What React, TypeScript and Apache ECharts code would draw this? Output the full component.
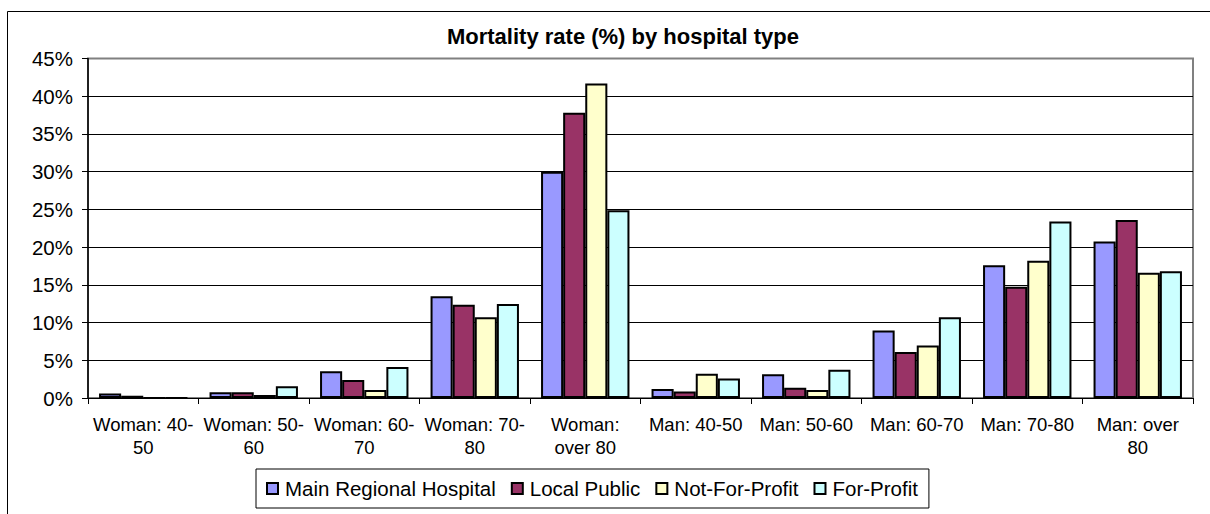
import React, { useEffect, useRef } from "react";
import * as echarts from "echarts";

const categories = [
  "Woman: 40-50",
  "Woman: 50-60",
  "Woman: 60-70",
  "Woman: 70-80",
  "Woman: over 80",
  "Man: 40-50",
  "Man: 50-60",
  "Man: 60-70",
  "Man: 70-80",
  "Man: over 80",
];
const tickLabels = [
  "Woman: 40-\n50",
  "Woman: 50-\n60",
  "Woman: 60-\n70",
  "Woman: 70-\n80",
  "Woman:\nover 80",
  "Man: 40-50",
  "Man: 50-60",
  "Man: 60-70",
  "Man: 70-80",
  "Man: over\n80",
];
const seriesNames = ["Main Regional Hospital", "Local Public", "Not-For-Profit", "For-Profit"];
const mainRegional = [0.6, 0.75, 3.55, 13.5, 30.0, 1.2, 3.15, 8.95, 17.6, 20.75];
const localPublic = [0.3, 0.75, 2.4, 12.35, 37.8, 0.85, 1.35, 6.1, 14.75, 23.6];
const notForProfit = [0, 0.4, 1.05, 10.7, 41.7, 3.2, 1.05, 6.95, 18.2, 16.6];
const forProfit = [0, 1.55, 4.1, 12.45, 24.9, 2.6, 3.75, 10.7, 23.4, 16.8];
const yTicks = [0, 5, 10, 15, 20, 25, 30, 35, 40, 45];

const colors = ["#9999FF", "#993366", "#FFFFCC", "#CCFFFF"];
const FONT = "'Liberation Sans', Arial, sans-serif";

export default function App() {
  const ref = useRef<HTMLDivElement>(null);
  useEffect(() => {
    if (!ref.current) return;
    const chart = echarts.init(ref.current, null, { renderer: "svg" });
    const data = [mainRegional, localPublic, notForProfit, forProfit];
    const splitColors = yTicks.map((t, i) => (i === yTicks.length - 1 ? "#808080" : "#000000"));
    chart.setOption({
      animation: false,
      backgroundColor: "#ffffff",
      textStyle: { fontFamily: FONT },
      title: {
        text: "Mortality rate (%) by hospital type",
        left: 618,
        top: 20,
        textAlign: "center",
        textStyle: { fontFamily: FONT, fontSize: 22, fontWeight: "bold", color: "#000" },
      },
      graphic: [
        {
          type: "rect",
          shape: { x: 7.5, y: 11.5, width: 1230, height: 530 },
          style: { fill: "none", stroke: "#000", lineWidth: 1 },
          silent: true,
          z: -1,
        },
      ],
      legend: {
        data: seriesNames,
        left: 256,
        top: 469,
        orient: "horizontal",
        backgroundColor: "#fff",
        borderColor: "#000",
        borderWidth: 1,
        padding: [9, 11, 9, 10],
        itemWidth: 11,
        itemHeight: 11,
        itemGap: 15,
        icon: "rect",
        itemStyle: { borderColor: "#000", borderWidth: 2 },
        textStyle: { fontFamily: FONT, fontSize: 20.5, color: "#000", padding: [0, 0, 0, 2] },
      },
      grid: {
        left: 88,
        right: 17,
        top: 58.5,
        bottom: 116,
        show: true,
        borderColor: "#808080",
        borderWidth: 2,
        backgroundColor: "#fff",
      },
      xAxis: {
        type: "category",
        data: categories,
        axisLine: { lineStyle: { color: "#000", width: 1 } },
        axisTick: { show: true, alignWithLabel: false, length: 6, lineStyle: { color: "#000" } },
        axisLabel: {
          interval: 0,
          margin: 15,
          color: "#000",
          fontFamily: FONT,
          fontSize: 18.5,
          lineHeight: 23,
          align: "center",
          formatter: (_v: string, i: number) => tickLabels[i],
        },
      },
      yAxis: {
        type: "value",
        min: 0,
        max: 45,
        interval: 5,
        axisLine: { show: true, lineStyle: { color: "#000", width: 1.5 } },
        axisTick: { show: true, length: 6, lineStyle: { color: "#000" } },
        axisLabel: {
          margin: 15,
          color: "#000",
          fontFamily: FONT,
          fontSize: 20.5,
          formatter: "{value}%",
        },
        splitLine: { show: true, lineStyle: { color: splitColors, width: 1 } },
      },
      series: data.map((d, i) => ({
        name: seriesNames[i],
        type: "bar",
        data: d,
        barGap: "0%",
        barCategoryGap: "20%",
        itemStyle: { color: colors[i], borderColor: "#000", borderWidth: 2 },
      })),
    });
    return () => chart.dispose();
  }, []);
  return (
    <div
      ref={ref}
      style={{ position: "fixed", left: 0, top: 0, width: 1210, height: 514 }}
    />
  );
}
